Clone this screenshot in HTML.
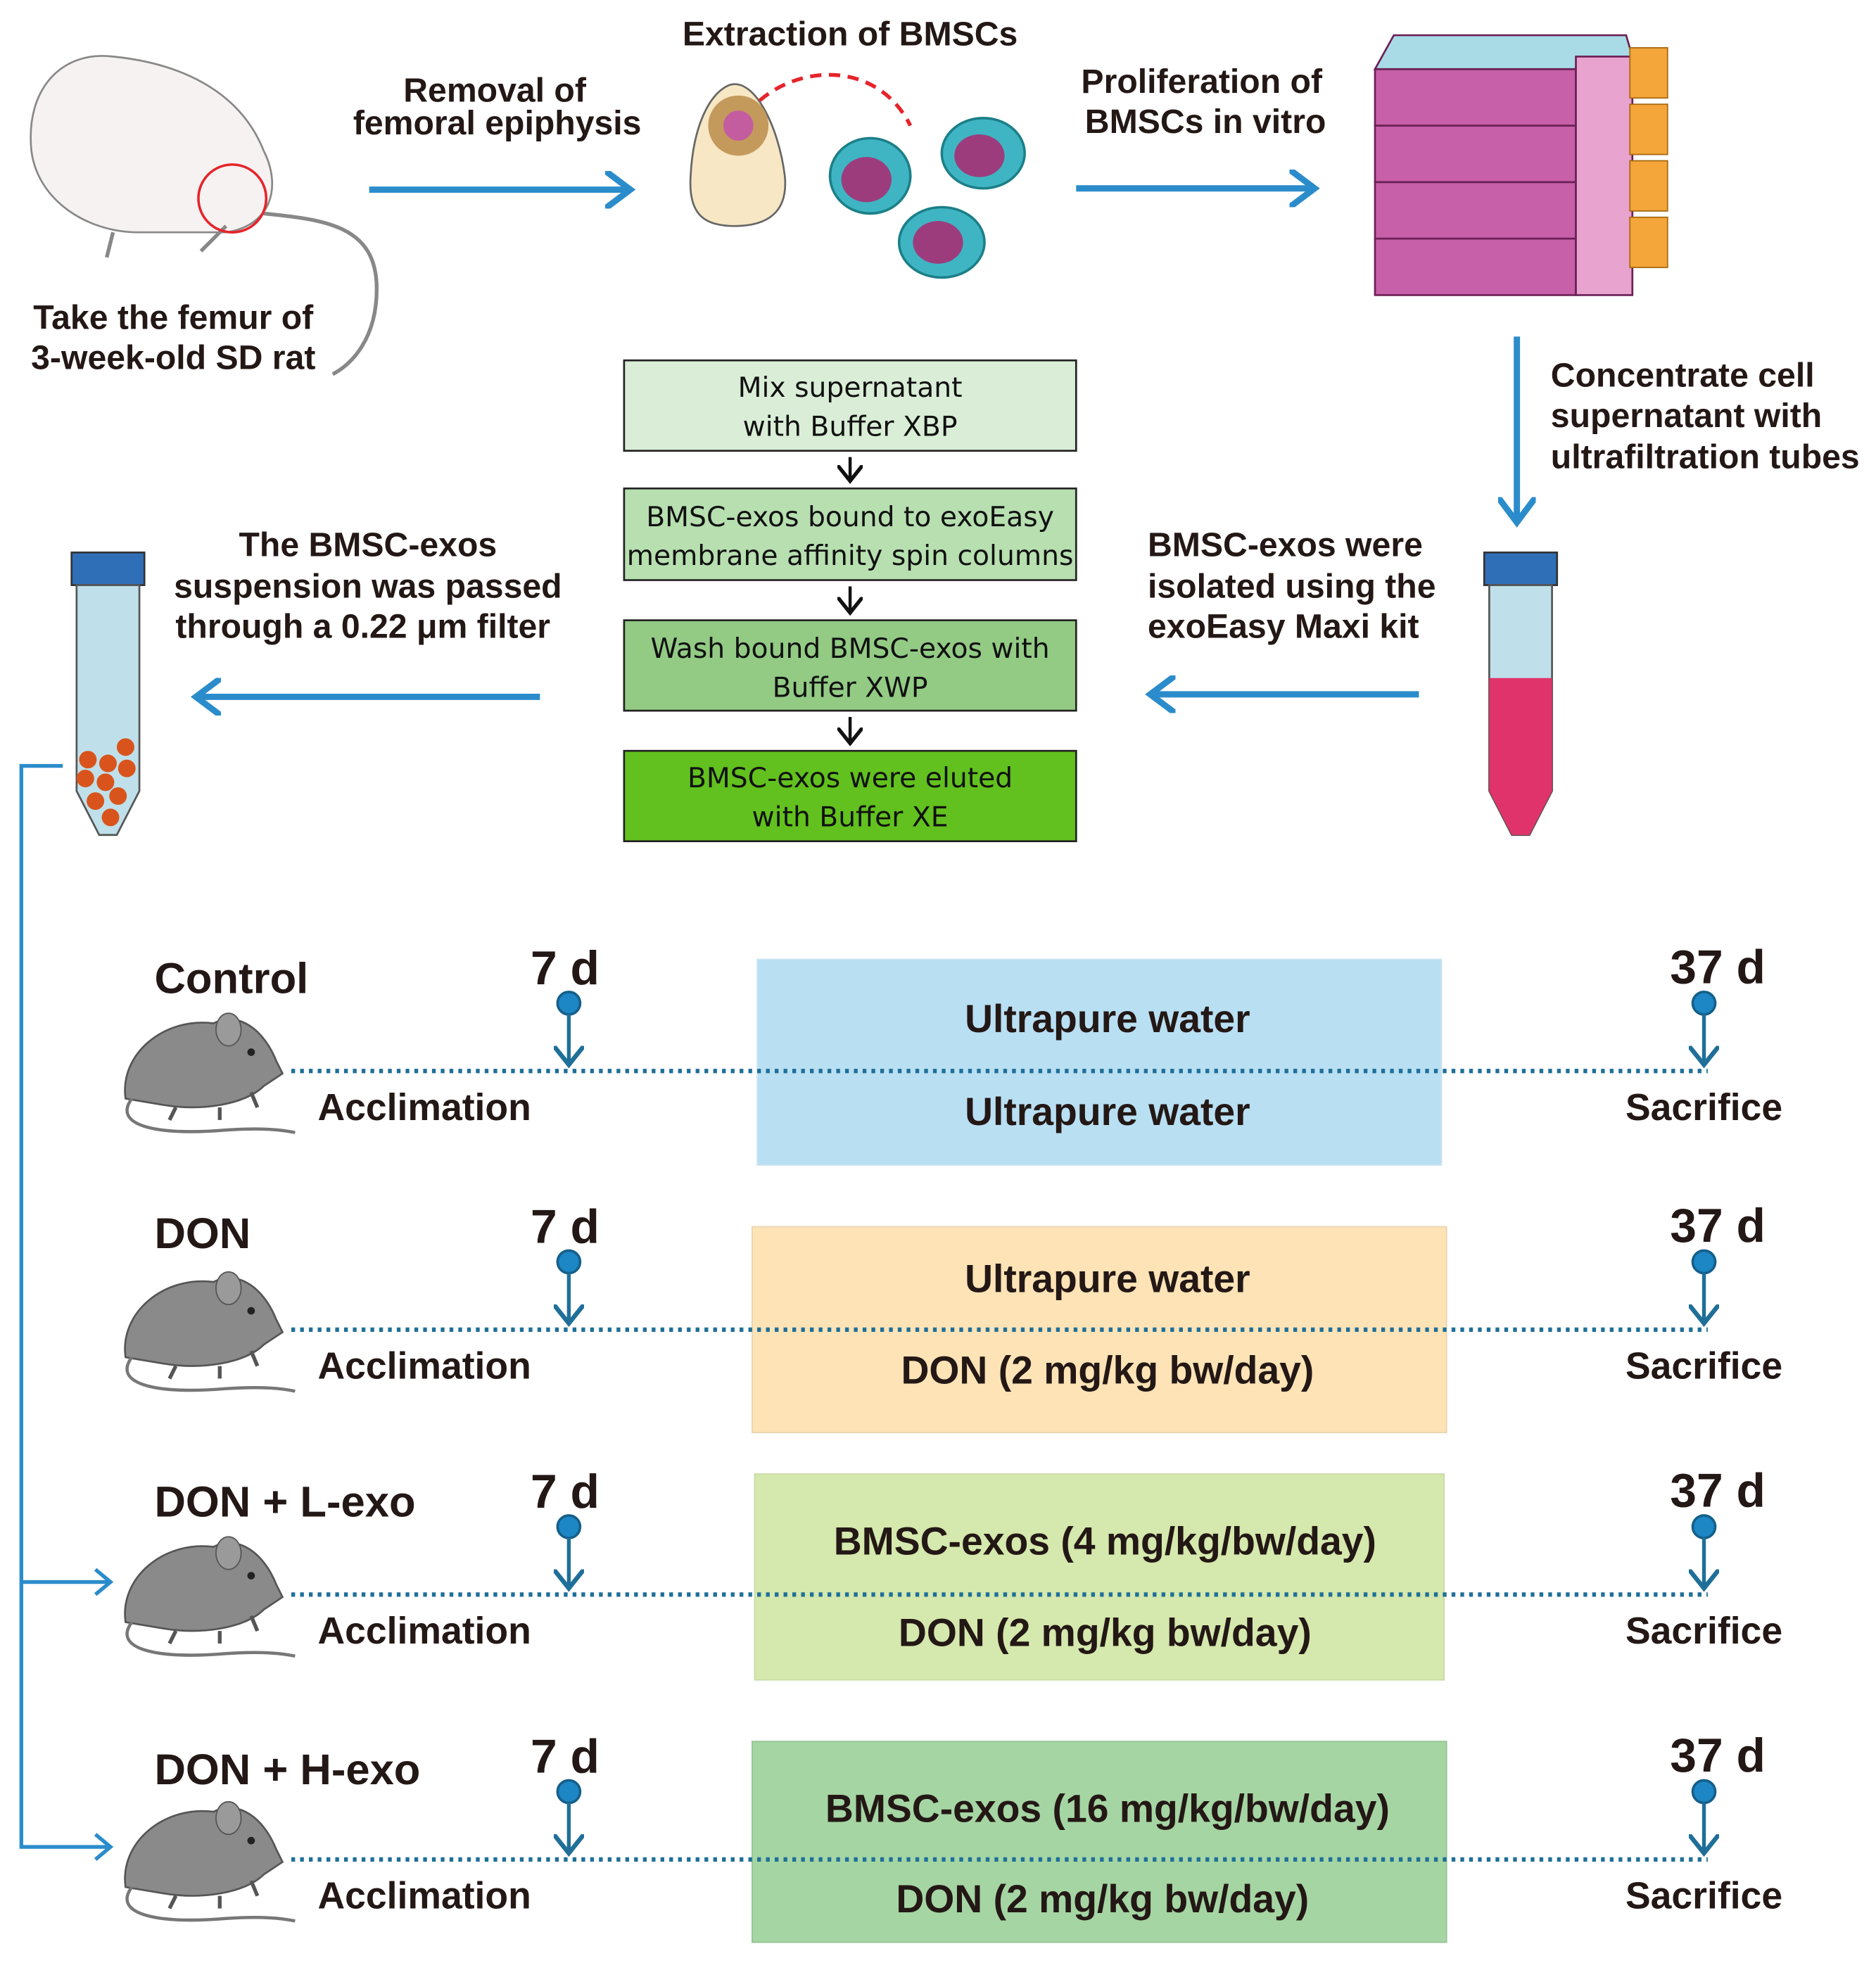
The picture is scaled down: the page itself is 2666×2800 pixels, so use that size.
<!DOCTYPE html>
<html><head><meta charset="utf-8"><style>
html,body{margin:0;padding:0;background:#fff}
svg{display:block}
text{font-family:"Liberation Sans",Arial,sans-serif;fill:#231815}
.b{font-weight:bold;font-size:27px}
.m{font-weight:bold;font-size:30px}
.w{font-weight:bold;font-size:31px}
.bx{font-size:22px;font-family:"DejaVu Sans","Liberation Sans",sans-serif;fill:#111}
.big{font-weight:bold;font-size:38px}
.t{font-weight:bold;font-size:34.5px}
</style></head><body>
<svg width="2666" height="2800" viewBox="0 0 1494 1569" xmlns="http://www.w3.org/2000/svg">
<defs>
<marker id="ah" markerWidth="6" markerHeight="6" refX="4" refY="3" orient="auto" markerUnits="strokeWidth">
<path d="M0,0 L4,3 L0,6" fill="none" stroke="#2b8ccb" stroke-width="1"/></marker>
<marker id="ak" markerWidth="8" markerHeight="8" refX="5" refY="4" orient="auto" markerUnits="strokeWidth">
<path d="M0,0 L5,4 L0,8" fill="none" stroke="#111" stroke-width="1.2"/></marker>
<marker id="ad" markerWidth="8" markerHeight="8" refX="5" refY="4" orient="auto" markerUnits="strokeWidth">
<path d="M0,0 L5,4 L0,8" fill="none" stroke="#1f6f99" stroke-width="1.2"/></marker>
<g id="mouse">
<path d="M0,75 C-5,40 30,10 70,15 C90,5 110,20 120,45 L125,55 L110,65 C95,80 60,85 30,80 Z" fill="#8a8a8a" stroke="#555" stroke-width="1.5"/>
<ellipse cx="82" cy="20" rx="10" ry="13" fill="#9a9a9a" stroke="#555"/>
<circle cx="100" cy="38" r="3" fill="#222"/>
<path d="M5,75 C-10,95 20,105 80,100 C110,98 125,100 135,102" fill="none" stroke="#777" stroke-width="2.5"/>
<path d="M40,82 l-5,10 M75,82 l0,10 M100,70 l5,12" stroke="#555" stroke-width="3"/>
</g>
<g id="pin"><circle cx="0" cy="0" r="9" fill="#1d86c4" stroke="#155f8a" stroke-width="2"/></g>
<g id="tube">
<rect x="0" y="0" width="58" height="26" fill="#2f6fb8" stroke="#333" stroke-width="1.5"/>
<path d="M4,26 L54,26 L54,190 L36,225 L22,225 L4,190 Z" fill="#bfe0ea" stroke="#555" stroke-width="1.5"/>
</g>
</defs>
<rect width="1494" height="1569" fill="#fff"/>

<path d="M25,120 C20,70 50,40 90,45 C140,50 190,70 210,120 C225,150 215,180 180,185 L110,185 C70,185 30,160 25,120 Z" fill="#f7f2f2" stroke="#888" stroke-width="1.5"/>
<path d="M210,170 C260,175 300,180 300,230 C300,270 280,290 265,298" fill="none" stroke="#888" stroke-width="3"/>
<path d="M90,185 l-5,20 M180,180 l-20,20" stroke="#888" stroke-width="3"/>
<circle cx="185" cy="158" r="27" fill="none" stroke="#e5242b" stroke-width="2"/>
<text class="b" x="138" y="262" text-anchor="middle">Take the femur of</text>
<text class="b" x="138" y="294" text-anchor="middle">3-week-old SD rat</text>

<text class="b" x="394" y="81" text-anchor="middle">Removal of</text>
<text class="b" x="396" y="107" text-anchor="middle">femoral epiphysis</text>
<line x1="294" y1="151" x2="502" y2="151" stroke="#2b8ccb" stroke-width="5" marker-end="url(#ah)"/>

<text class="b" x="677" y="36" text-anchor="middle">Extraction of BMSCs</text>
<path d="M580,68 C600,60 620,100 625,140 C628,170 610,180 585,180 C560,180 548,170 550,140 C552,100 565,75 580,68 Z" fill="#f7e7c4" stroke="#666" stroke-width="1.5"/>
<circle cx="588" cy="100" r="24" fill="#c49a5c"/><circle cx="588" cy="100" r="12" fill="#c45ca0"/>
<path d="M605,80 C640,50 700,50 725,100" fill="none" stroke="#e5242b" stroke-width="3" stroke-dasharray="9,6"/>
<g fill="#3fb5c3" stroke="#1c7f88" stroke-width="2"><ellipse cx="693" cy="140" rx="32" ry="30"/><ellipse cx="783" cy="122" rx="33" ry="28"/><ellipse cx="750" cy="193" rx="34" ry="28"/></g>
<g fill="#9c3c7d"><ellipse cx="690" cy="143" rx="20" ry="18"/><ellipse cx="780" cy="124" rx="20" ry="17"/><ellipse cx="747" cy="193" rx="20" ry="17"/></g>

<text class="b" x="957" y="74" text-anchor="middle">Proliferation of</text>
<text class="b" x="960" y="106" text-anchor="middle">BMSCs in vitro</text>
<line x1="857" y1="150" x2="1047" y2="150" stroke="#2b8ccb" stroke-width="5" marker-end="url(#ah)"/>

<g stroke="#6b2156" stroke-width="1.5">
<rect x="1095" y="190" width="160" height="45" fill="#c760a8"/>
<rect x="1095" y="145" width="160" height="45" fill="#c760a8"/>
<rect x="1095" y="100" width="160" height="45" fill="#c760a8"/>
<rect x="1095" y="55" width="160" height="45" fill="#c760a8"/>
<path d="M1095,55 L1110,28 L1295,28 L1300,45 L1255,55 Z" fill="#a9dbe6"/>
<rect x="1255" y="45" width="45" height="190" fill="#e8a3cf"/>
</g>
<g fill="#f4a63a" stroke="#a86a10"><rect x="1298" y="38" width="30" height="40"/><rect x="1298" y="83" width="30" height="40"/><rect x="1298" y="128" width="30" height="40"/><rect x="1298" y="173" width="30" height="40"/></g>

<line x1="1208" y1="268" x2="1208" y2="416" stroke="#2b8ccb" stroke-width="5" marker-end="url(#ah)"/>
<text class="b" x="1235" y="308">Concentrate cell</text>
<text class="b" x="1235" y="340">supernatant with</text>
<text class="b" x="1235" y="373">ultrafiltration tubes</text>

<use href="#tube" x="1182" y="440"/>
<path d="M1186,540 L1236,540 L1236,630 L1218,665 L1204,665 L1186,630 Z" fill="#e0336b"/>
<text class="b" x="914" y="443">BMSC-exos were</text>
<text class="b" x="914" y="476">isolated using the</text>
<text class="b" x="914" y="508">exoEasy Maxi kit</text>
<line x1="1130" y1="553" x2="916" y2="553" stroke="#2b8ccb" stroke-width="5" marker-end="url(#ah)"/>

<g stroke="#222" stroke-width="1.5">
<rect x="497" y="287" width="360" height="72" fill="#daeed7"/>
<rect x="497" y="389" width="360" height="73" fill="#b7dfb0"/>
<rect x="497" y="494" width="360" height="72" fill="#93cb85"/>
<rect x="497" y="598" width="360" height="72" fill="#62c11e"/>
</g>
<g stroke="#111" stroke-width="2.5"><line x1="677" y1="364" x2="677" y2="383" marker-end="url(#ak)"/><line x1="677" y1="467" x2="677" y2="488" marker-end="url(#ak)"/><line x1="677" y1="571" x2="677" y2="592" marker-end="url(#ak)"/></g>
<text class="bx" x="677" y="316" text-anchor="middle">Mix supernatant</text>
<text class="bx" x="677" y="347" text-anchor="middle">with Buffer XBP</text>
<text class="bx" x="677" y="419" text-anchor="middle">BMSC-exos bound to exoEasy</text>
<text class="bx" x="677" y="450" text-anchor="middle">membrane affinity spin columns</text>
<text class="bx" x="677" y="524" text-anchor="middle">Wash bound BMSC-exos with</text>
<text class="bx" x="677" y="555" text-anchor="middle">Buffer XWP</text>
<text class="bx" x="677" y="627" text-anchor="middle">BMSC-exos were eluted</text>
<text class="bx" x="677" y="658" text-anchor="middle">with Buffer XE</text>

<use href="#tube" x="57" y="440"/>
<g fill="#d9541c"><circle cx="70" cy="605" r="7"/><circle cx="86" cy="608" r="7"/><circle cx="100" cy="595" r="7"/><circle cx="68" cy="620" r="7"/><circle cx="84" cy="623" r="7"/><circle cx="101" cy="612" r="7"/><circle cx="76" cy="638" r="7"/><circle cx="94" cy="634" r="7"/><circle cx="88" cy="651" r="7"/></g>
<text class="b" x="293" y="443" text-anchor="middle">The BMSC-exos</text>
<text class="b" x="293" y="476" text-anchor="middle">suspension was passed</text>
<text class="b" x="289" y="508" text-anchor="middle">through a 0.22 μm filter</text>
<line x1="430" y1="555" x2="156" y2="555" stroke="#2b8ccb" stroke-width="5" marker-end="url(#ah)"/>

<path d="M50,610 L17,610 L17,1471 L86,1471 M17,1260 L86,1260" fill="none" stroke="#2b8ccb" stroke-width="3"/>
<path d="M76,1250 L88,1260 L76,1270 M76,1461 L88,1471 L76,1481" fill="none" stroke="#2b8ccb" stroke-width="3"/>

<rect x="603" y="764" width="545" height="164" fill="#b9dff3" stroke="#cfe6f1"/>
<rect x="599" y="977" width="553" height="164" fill="#fde3b6" stroke="#e9d5b3"/>
<rect x="601" y="1174" width="549" height="164" fill="#d5e8ad" stroke="#c7dba3"/>
<rect x="599" y="1387" width="553" height="160" fill="#a5d5a3" stroke="#95c493"/>

<g id="g1">
<text class="t" x="123" y="791">Control</text>
<use href="#mouse" x="100" y="800"/>
<text class="big" x="450" y="784" text-anchor="middle">7 d</text>
<use href="#pin" x="453" y="799"/>
<line x1="453" y1="808" x2="453" y2="848" stroke="#1f6f99" stroke-width="3" marker-end="url(#ad)"/>
<line x1="232" y1="853" x2="1360" y2="853" stroke="#1f6f99" stroke-width="3.5" stroke-dasharray="3,4"/>
<text class="m" x="338" y="892" text-anchor="middle">Acclimation</text>
<text class="big" x="1368" y="783" text-anchor="middle">37 d</text>
<use href="#pin" x="1357" y="799"/>
<line x1="1357" y1="808" x2="1357" y2="848" stroke="#1f6f99" stroke-width="3" marker-end="url(#ad)"/>
<text class="m" x="1357" y="892" text-anchor="middle">Sacrifice</text>
</g>
<text class="w" x="882" y="822" text-anchor="middle">Ultrapure water</text>
<text class="w" x="882" y="896" text-anchor="middle">Ultrapure water</text>

<use href="#g1" y="206"/>
<rect x="115" y="958" width="180" height="44" fill="#fff"/>
<text class="t" x="123" y="994">DON</text>
<text class="w" x="882" y="1029" text-anchor="middle">Ultrapure water</text>
<text class="w" x="882" y="1102" text-anchor="middle">DON (2 mg/kg bw/day)</text>

<use href="#g1" y="417"/>
<rect x="115" y="1168" width="250" height="45" fill="#fff"/>
<text class="t" x="123" y="1208">DON + L-exo</text>
<text class="w" x="880" y="1238" text-anchor="middle">BMSC-exos (4 mg/kg/bw/day)</text>
<text class="w" x="880" y="1311" text-anchor="middle">DON (2 mg/kg bw/day)</text>

<use href="#g1" y="628"/>
<rect x="115" y="1380" width="250" height="45" fill="#fff"/>
<text class="t" x="123" y="1421">DON + H-exo</text>
<text class="w" x="882" y="1451" text-anchor="middle">BMSC-exos (16 mg/kg/bw/day)</text>
<text class="w" x="878" y="1523" text-anchor="middle">DON (2 mg/kg bw/day)</text>
</svg>
</body></html>
